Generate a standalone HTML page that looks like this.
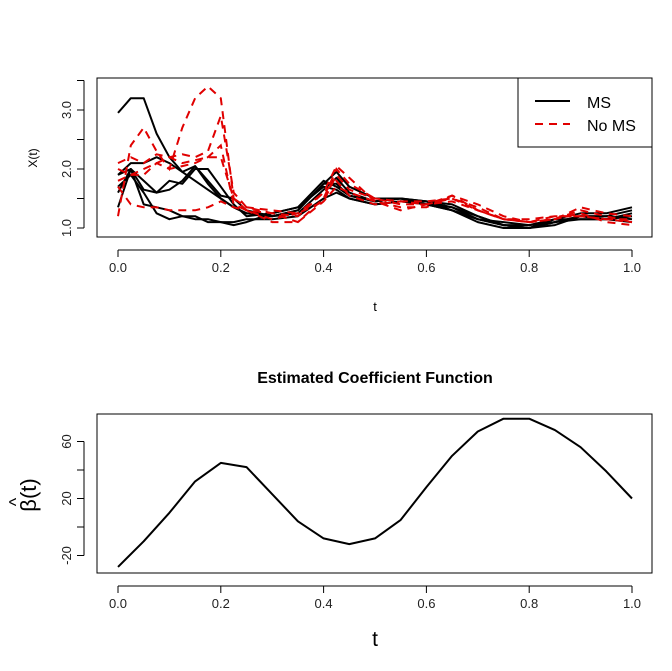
<!DOCTYPE html>
<html><head><meta charset="utf-8"><style>
body{margin:0;background:#fff}
svg{display:block;font-family:"Liberation Sans",Arial,sans-serif}
</style></head><body>
<svg id="chart" width="672" height="671" viewBox="0 0 672 671" xmlns="http://www.w3.org/2000/svg">
<rect width="672" height="671" fill="#fff"/>
</svg>
<script>
const tGrid=[0,0.025,0.05,0.075,0.1,0.125,0.15,0.175,0.2,0.225,0.25,0.3,0.35,0.4,0.425,0.45,0.5,0.55,0.6,0.65,0.7,0.75,0.8,0.85,0.9,0.95,1.0];
const msCurves=[
[2.95,3.2,3.2,2.6,2.2,1.95,1.8,1.65,1.5,1.35,1.25,1.2,1.25,1.65,1.85,1.6,1.45,1.5,1.45,1.35,1.15,1.05,1.0,1.1,1.2,1.2,1.3],
[1.9,2.1,2.1,2.2,2.1,1.95,2.05,1.75,1.5,1.35,1.25,1.2,1.3,1.75,1.95,1.7,1.5,1.5,1.45,1.4,1.2,1.05,1.0,1.15,1.25,1.25,1.35],
[1.6,2.0,1.65,1.6,1.8,1.75,2.0,2.0,1.7,1.4,1.2,1.25,1.35,1.8,1.7,1.55,1.45,1.5,1.4,1.3,1.1,1.0,1.0,1.1,1.2,1.15,1.2],
[1.35,2.0,1.4,1.35,1.3,1.2,1.15,1.15,1.1,1.1,1.15,1.15,1.2,1.5,1.6,1.5,1.4,1.45,1.45,1.3,1.15,1.1,1.05,1.15,1.15,1.15,1.1],
[1.9,2.0,1.8,1.6,1.65,1.8,2.05,1.8,1.55,1.5,1.3,1.2,1.3,1.75,1.75,1.55,1.45,1.5,1.4,1.35,1.2,1.05,1.0,1.05,1.2,1.2,1.15],
[1.7,1.9,1.6,1.25,1.15,1.2,1.2,1.1,1.1,1.05,1.1,1.25,1.35,1.7,1.65,1.5,1.4,1.45,1.4,1.3,1.15,1.05,1.05,1.1,1.15,1.15,1.25]];
const noMsCurves=[
[1.2,2.4,2.7,2.3,2.0,2.7,3.2,3.4,3.2,1.5,1.3,1.25,1.2,1.6,2.05,1.85,1.45,1.3,1.4,1.55,1.3,1.15,1.1,1.15,1.3,1.2,1.1],
[2.1,2.2,2.1,2.25,2.2,2.25,2.2,2.3,2.9,1.6,1.35,1.25,1.1,1.5,2.0,1.75,1.5,1.4,1.4,1.45,1.3,1.15,1.1,1.15,1.35,1.25,1.2],
[1.8,1.9,2.0,2.1,2.2,2.1,2.15,2.2,2.2,1.5,1.35,1.3,1.25,1.45,1.9,1.65,1.5,1.45,1.45,1.5,1.35,1.15,1.15,1.2,1.2,1.15,1.15],
[1.7,1.4,1.35,1.35,1.3,1.3,1.3,1.35,1.45,1.35,1.3,1.1,1.1,1.45,1.7,1.6,1.45,1.35,1.35,1.55,1.4,1.2,1.1,1.15,1.25,1.1,1.05],
[2.0,1.9,1.9,2.1,2.0,2.05,2.1,2.2,2.4,1.4,1.3,1.15,1.25,1.6,1.8,1.55,1.4,1.45,1.4,1.5,1.3,1.15,1.1,1.2,1.2,1.15,1.1]];
const betaT=[0,0.05,0.1,0.15,0.2,0.25,0.3,0.35,0.4,0.45,0.5,0.55,0.6,0.65,0.7,0.75,0.8,0.85,0.9,0.95,1.0];
const betaValues=[-28,-10,10,32,45,42,23,4,-8,-12,-8,5,28,50,67,76,76,68,56,39,20];
const xTicks=[0,0.2,0.4,0.6,0.8,1.0];
const xTickLabels=["0.0","0.2","0.4","0.6","0.8","1.0"];
const topYTicks=[1.0,1.5,2.0,2.5,3.0,3.5];
const topYLabels=["1.0","","2.0","","3.0",""];
const botYTicks=[-20,0,20,40,60];
const botYLabels=["-20","","20","","60"];

const NS="http://www.w3.org/2000/svg";
const svg=document.getElementById('chart');
function mk(tag,attrs,parent){const e=document.createElementNS(NS,tag);for(const k in attrs)e.setAttribute(k,attrs[k]);(parent||svg).appendChild(e);return e;}
const xs=t=>118+t*(632-118);
const yTop=v=>228-(v-1)*59;
const yBot=v=>527-v*57/40;
function txt(x,y,s,size,extra){const e=mk('text',Object.assign({x:x,y:y,'font-size':size,'text-anchor':'middle',fill:'#000'},extra||{}));e.textContent=s;return e;}

function panel(top,bottom,yf,yt,yl,name){
  const g=mk('g',{});
  
  
  const box=mk('rect',{x:97,y:top,width:555,height:bottom-top,fill:'none',stroke:'#000','stroke-width':1},g);
  
  
  const xa=mk('g',{},g);
  
  
  mk('line',{x1:xs(0),x2:xs(1),y1:bottom+13,y2:bottom+13,stroke:'#000'},xa);
  xTicks.forEach((t,i)=>{mk('line',{x1:xs(t),x2:xs(t),y1:bottom+13,y2:bottom+20,stroke:'#000'},xa);
    const l=txt(xs(t),bottom+35,xTickLabels[i],13,{fill:'#222'});xa.appendChild(l);});
  const ya=mk('g',{},g);
  
  
  mk('line',{x1:84,x2:84,y1:yf(yt[0]),y2:yf(yt[yt.length-1]),stroke:'#000'},ya);
  yt.forEach((v,i)=>{mk('line',{x1:77,x2:84,y1:yf(v),y2:yf(v),stroke:'#000'},ya);
    if(yl[i]){const l=txt(0,0,yl[i],13,{fill:'#222',transform:`translate(71,${yf(v)}) rotate(-90)`});ya.appendChild(l);}});
  return g;
}
const g1=panel(78,237,yTop,topYTicks,topYLabels,'top-panel');
const g2=panel(414,573,yBot,botYTicks,botYLabels,'bottom-panel');

function pathD(ts,vals,yf){return vals.map((v,i)=>(i?'L':'M')+xs(ts[i]).toFixed(1)+','+yf(v).toFixed(1)).join(' ');}
msCurves.forEach((c,i)=>{const p=mk('path',{d:pathD(tGrid,c,yTop),fill:'none',stroke:'#000','stroke-width':2,'stroke-linejoin':'round'},g1);
  
  });
noMsCurves.forEach((c,i)=>{const p=mk('path',{d:pathD(tGrid,c,yTop),fill:'none',stroke:'#e00000','stroke-width':2,'stroke-dasharray':'8,6'},g1);
  
  });
const bp=mk('path',{d:pathD(betaT,betaValues,yBot),fill:'none',stroke:'#000','stroke-width':2,'stroke-linejoin':'round'},g2);



const lg=mk('g',{});


mk('rect',{x:518,y:78,width:134,height:69,fill:'#fff',stroke:'#000'},lg);
mk('line',{x1:535,x2:570,y1:101,y2:101,stroke:'#000','stroke-width':2},lg);
mk('line',{x1:535,x2:570,y1:124,y2:124,stroke:'#e00000','stroke-width':2,'stroke-dasharray':'8,6'},lg);
const l1=txt(587,108,'MS',16,{'text-anchor':'start'});lg.appendChild(l1);


const l2=txt(587,131,'No MS',16,{'text-anchor':'start'});lg.appendChild(l2);



const xt1=txt(375,311,'t',13);


const yt1=txt(0,0,'X(t)',12,{transform:'translate(37,158) rotate(-90)'});


const tt=txt(375,383,'Estimated Coefficient Function',16,{'font-weight':'bold'});


const xt2=txt(375,646,'t',21);


const yt2=txt(0,0,'β(t)',22,{transform:'translate(36,495) rotate(-90)'});


const hat=txt(0,0,'^',18,{transform:'translate(22,502) rotate(-90)'});


</script>
</body></html>
